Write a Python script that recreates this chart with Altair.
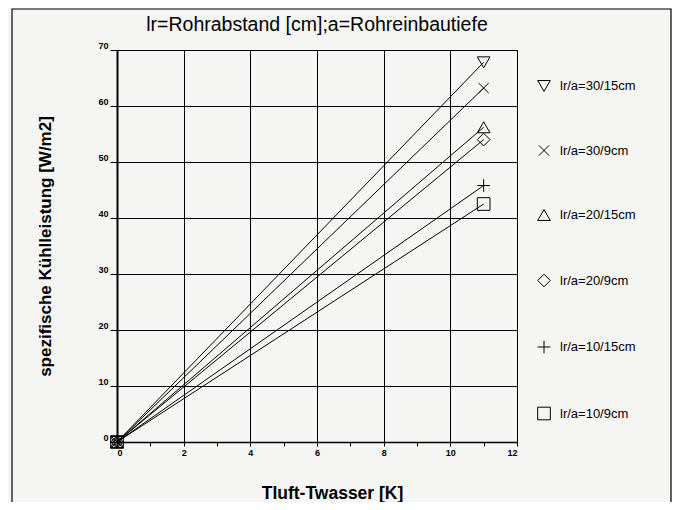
import altair as alt
import pandas as pd

# ---- data ----
series = ["lr/a=30/15cm", "lr/a=30/9cm", "lr/a=20/15cm",
          "lr/a=20/9cm", "lr/a=10/15cm", "lr/a=10/9cm"]
x_start = [0, 0, 0, 0, 0, 0]
y_start = [0, 0, 0, 0, 0, 0]
x_end = [11, 11, 11, 11, 11, 11]
y_end = [67.8, 63.2, 56.2, 54.0, 45.8, 42.5]
shapes = [
    "triangle-down",
    "M-0.8,-0.8L0.8,0.8M-0.8,0.8L0.8,-0.8",
    "triangle-up",
    "diamond",
    "M-1,0L1,0M0,-1L0,1",
    "square",
]
x_ticks = list(range(0, 13))
y_ticks = list(range(0, 71, 10))
title_text = "lr=Rohrabstand [cm];a=Rohreinbautiefe"

rows = []
for s, x0, y0, x1, y1 in zip(series, x_start, y_start, x_end, y_end):
    rows.append({"series": s, "x": x0, "y": y0})
    rows.append({"series": s, "x": x1, "y": y1})
df = pd.DataFrame(rows)

FONT = "Liberation Sans"

x_enc = alt.X(
    "x:Q",
    scale=alt.Scale(domain=[0, 12], nice=False, zero=False),
    axis=alt.Axis(
        values=x_ticks,
        labelExpr="datum.value % 2 === 0 ? datum.label : ''",
        gridOpacity={"condition": {"test": "datum.value % 2 === 0", "value": 1}, "value": 0},
        grid=True, gridColor="#000", gridWidth=1,
        tickColor="#000", tickSize=4, tickWidth=1,
        domainColor="#000", domainWidth=1.5,
        labelFont=FONT, labelFontSize=9, labelFontWeight="bold", labelColor="#000",
        labelPadding=2,
        title="Tluft-Twasser [K]", titleFont=FONT, titleFontSize=17.5, titleFontWeight="bold",
        titleColor="#000", titleX=215, titleY=51, titleBaseline="middle",
    ),
)
y_enc = alt.Y(
    "y:Q",
    scale=alt.Scale(domain=[0, 70], nice=False),
    axis=alt.Axis(
        values=y_ticks,
        grid=True, gridColor="#000", gridWidth=1,
        tickColor="#000", tickSize=7, tickWidth=1,
        domainColor="#000", domainWidth=2,
        labelFont=FONT, labelFontSize=9, labelFontWeight="bold", labelColor="#000",
        labelPadding=2, labelBaseline="bottom",
        title="spezifische Kühlleistung [W/m2]", titleFont=FONT, titleFontSize=17,
        titleFontWeight="bold", titleColor="#000", titleAngle=-90,
        titleX=-72, titleY=196, titleBaseline="middle",
    ),
)

base = alt.Chart(df)

lines = base.mark_line(color="#000", strokeWidth=1).encode(
    x=x_enc, y=y_enc, detail="series:N"
)

points = base.mark_point(filled=False, color="#000", size=160, strokeWidth=1, opacity=1).encode(
    x=x_enc, y=y_enc,
    shape=alt.Shape(
        "series:N",
        scale=alt.Scale(domain=series, range=shapes),
        legend=alt.Legend(
            title=None, orient="none", legendX=420, legendY=29,
            direction="vertical", padding=0, rowPadding=48.5,
            symbolSize=160, symbolStrokeWidth=1, symbolStrokeColor="#000",
            symbolFillColor="transparent",
            labelFont=FONT, labelFontSize=13, labelColor="#000", labelOffset=9,
        ),
    ),
)

frame = alt.Chart(alt.Data(values=[{}])).mark_rect(
    fill=None, stroke="#000", strokeWidth=1.2, clip=False
).encode(
    x=alt.value(-105), x2=alt.value(554), y=alt.value(-41), y2=alt.value(470)
)

title = alt.Chart(alt.Data(values=[{"t": title_text}])).mark_text(
    font=FONT, fontSize=19.5, color="#000", align="center", baseline="alphabetic"
).encode(
    text="t:N", x=alt.value(200), y=alt.value(-19)
)

chart = alt.layer(frame, title, lines, points).properties(
    width=400, height=392,
    padding={"left": 109, "top": 42, "right": 155, "bottom": 60},
    autosize=alt.AutoSizeParams(type="none"),
    background="#f5f5f4",
).configure_view(stroke="#000", strokeWidth=1)

chart.save("out.html", embed_options={"renderer": "svg", "actions": False})
